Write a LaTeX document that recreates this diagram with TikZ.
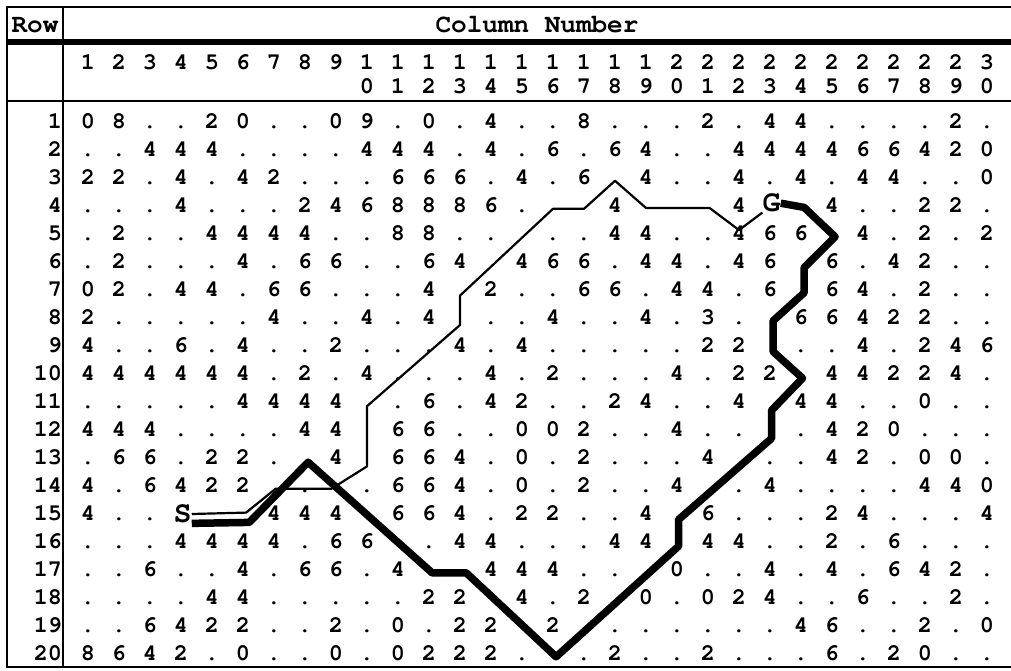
\documentclass[tikz,border=0pt]{standalone}
\usepackage{fontspec}
\setmonofont{TeX Gyre Cursor}
\usetikzlibrary{positioning}

\def\hid{x}

\begin{document}
\begin{tikzpicture}[x=1pt, y=-1pt,
    cell/.style={font=\ttfamily\bfseries\fontsize{23.5}{23.5}\selectfont, inner sep=0pt, anchor=base},
    rowlab/.style={cell, anchor=base east},
    headtext/.style={font=\ttfamily\bfseries\fontsize{26}{26}\selectfont, inner sep=0pt},
    endpt/.style={font=\ttfamily\bfseries\fontsize{30}{30}\selectfont, inner sep=0pt},
    framerule/.style={line width=2.5pt},
    lightpath/.style={line width=2.2pt, line join=round},
    heavypath/.style={line width=7.5pt, line join=round}]
  \useasboundingbox (0,0) rectangle (1011,671);
  % ---- frame of the table
  \draw[framerule] (1011,7) -- (7,7) -- (7,667) -- (1011,667);
  \draw[framerule] (63,7) -- (63,667);
  \draw[line width=6pt] (7,42) -- (1011,42);
  \draw[framerule] (7,101) -- (1011,101);
  \node[headtext] (rowhead) at (35,25) {Row};
  \node[headtext] (colhead) at (537,25) {Column Number};
  % ---- grid : one unit = one column / one row
  \begin{scope}[shift={(57,94)}, x=31pt, y=-28pt]
    \foreach \c in {1,...,30}
      { \pgfmathtruncatemacro\tens{\c/10}
        \pgfmathtruncatemacro\ones{mod(\c,10)}
        \ifnum\c<10
          \node[cell] (h\c) at (\c,-0.875) {\c};
        \else
          \node[cell] (h\c) at (\c,-0.875) {\tens};
          \node[cell] (u\c) at (\c,-0.018) {\ones};
        \fi }
    \foreach \r in {1,...,20}
      { \node[rowlab] (r\r) at (0.17,\r+0.24) {\r}; }
    % ---- cell values, x = hidden under a route
    \foreach \r/\vals in {
       1/{0,8,.,.,2,0,.,.,0,9,.,0,.,4,.,.,8,.,.,.,2,.,4,4,.,.,.,.,2,.},
       2/{.,.,4,4,4,.,.,.,.,4,4,4,.,4,.,6,.,6,4,.,.,4,4,4,4,6,6,4,2,0},
       3/{2,2,.,4,.,4,2,.,.,.,6,6,6,.,4,.,6,x,4,.,.,4,.,4,.,4,4,.,.,0},
       4/{.,.,.,4,.,.,.,2,4,6,8,8,8,6,.,x,x,4,x,x,x,4,x,x,4,.,.,2,2,.},
       5/{.,2,.,.,4,4,4,4,.,.,8,8,.,.,x,.,.,4,4,.,.,4,6,6,x,4,.,2,.,2},
       6/{.,2,.,.,.,4,.,6,6,.,.,6,4,x,4,6,6,.,4,4,.,4,6,x,6,.,4,2,.,.},
       7/{0,2,.,4,4,.,6,6,.,.,.,4,x,2,.,.,6,6,.,4,4,.,6,x,6,4,.,2,.,.},
       8/{2,.,.,.,.,.,4,.,.,4,.,4,x,.,.,4,.,.,4,.,3,.,x,6,6,4,2,2,.,.},
       9/{4,.,.,6,.,4,.,.,2,.,.,.,4,.,4,.,.,.,.,.,2,2,x,.,.,4,.,2,4,6},
      10/{4,4,4,4,4,4,.,2,.,4,.,.,.,4,.,2,.,.,.,4,.,2,2,x,4,4,2,2,4,.},
      11/{.,.,.,.,.,4,4,4,4,x,.,6,.,4,2,.,.,2,4,.,.,4,x,4,4,.,.,0,.,.},
      12/{4,4,4,.,.,.,.,4,4,x,6,6,.,.,0,0,2,.,.,4,.,.,x,.,4,2,0,.,.,.},
      13/{.,6,6,.,2,2,.,x,4,x,6,6,4,.,0,.,2,.,.,.,4,x,.,.,4,2,.,0,0,.},
      14/{4,.,6,4,2,2,x,.,x,.,6,6,4,.,0,.,2,.,.,4,x,.,4,.,.,.,.,4,4,0},
      15/{4,.,.,x,x,x,4,4,4,x,6,6,4,.,2,2,.,.,4,x,6,.,.,.,2,4,.,.,.,4},
      16/{.,.,.,4,4,4,4,.,6,6,x,.,4,4,.,.,.,4,4,x,4,4,.,.,2,.,6,.,.,.},
      17/{.,.,6,.,.,4,.,6,6,.,4,x,x,4,4,4,.,.,x,0,.,.,4,.,4,.,6,4,2,.},
      18/{.,.,.,.,4,4,.,.,.,.,.,2,2,x,4,.,2,x,0,.,0,2,4,.,.,6,.,.,2,.},
      19/{.,.,6,4,2,2,.,.,2,.,0,.,2,2,x,2,x,.,.,.,.,.,.,4,6,.,.,2,.,0},
      20/{8,6,4,2,.,0,.,.,0,.,0,2,2,2,.,x,.,2,.,.,2,.,.,.,6,.,2,0,.,.}}
      { \foreach \v [count=\c] in \vals
          { \ifx\v\hid\else \node[cell] (n\c-\r) at (\c,\r+0.24) {\v}; \fi } }
    % ---- start and goal
    \node[endpt] (S) at (4.05,15) {S};
    \node[endpt] (G) at (23.05,3.9) {G};
    % ---- the two routes from S to G
    \draw[heavypath] (S.south east) -- (6.2,15.3) -- (8.1,13.15) -- (12.1,17.1)
      -- (13.2,17.1) -- (16.1,20.1) -- (20.05,16.15) -- (20.05,15.2)
      -- (23.05,12.3) -- (23.05,11.3) -- (24.05,10.15) -- (23.1,9.2)
      -- (23.1,8.1) -- (24.1,7.1) -- (24.1,6.2) -- (25.1,5.1) -- (24.1,4.05)
      -- (G.east);
    \draw[lightpath] (S.east) -- (6.1,14.95) -- (7.05,14.1) -- (8.85,14.1)
      -- (10,13.3) -- (10,11.15) -- (13,8.25) -- (13,7.2) -- (16,4.1)
      -- (17,4.1) -- (18,3.1) -- (19,4.07) -- (21.05,4.07) -- (22,4.86)
      -- (G.south west);
  \end{scope}
\end{tikzpicture}
\end{document}
